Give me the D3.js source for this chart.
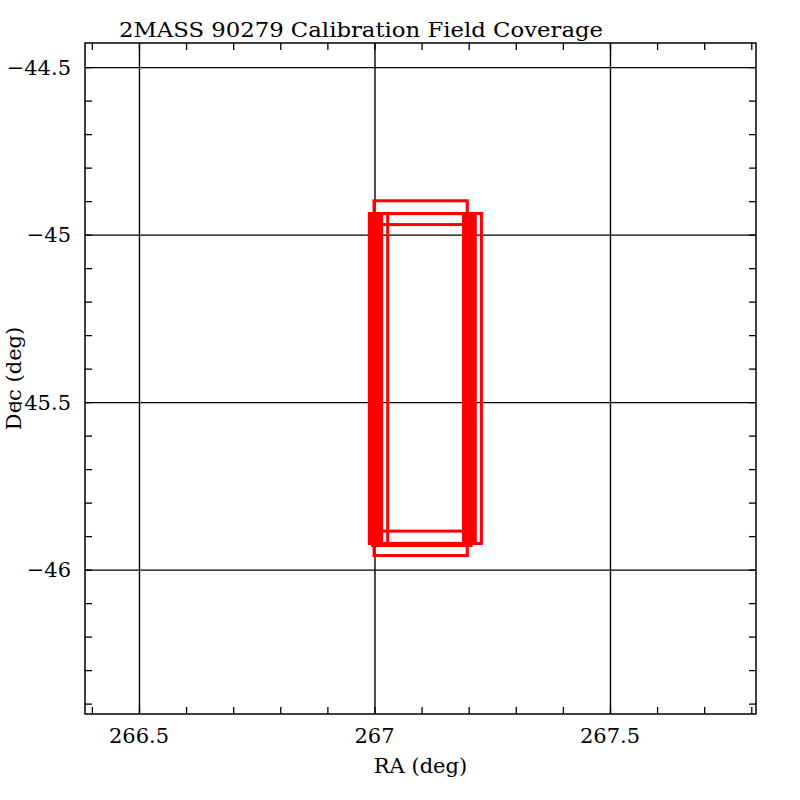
<!DOCTYPE html>
<meta charset="utf-8">
<style>
body { margin: 0; background: #fff; }
text {
  font-family: "DejaVu Serif", serif;
  font-size: 21px;
  fill: #000;
}
</style>
<svg width="800" height="800"></svg>
<script src="https://d3js.org/d3.v7.min.js"></script>
<script>

var svg = d3.select("svg");

// ---- data (RA / Dec in degrees) ----
var raDomain = [266.3854, 267.81];
var decDomain = [-46.431, -44.428];
var raTicks = [266.5, 267, 267.5];
var decTicks = [-44.5, -45, -45.5, -46];

// scan footprints: RA left, RA right, Dec top, Dec bottom
var scanRaLeft  = [266.989, 266.992, 266.996, 266.999, 267.002, 267.005, 267.008, 267.011, 267.015, 267.028];
var scanRaRight = [267.189, 267.192, 267.195, 267.198, 267.202, 267.205, 267.208, 267.211, 267.214, 267.227];
var scanDecTop  = [-44.937, -44.937, -44.937, -44.937, -44.937, -44.937, -44.937, -44.937, -44.937, -44.937];
var scanDecBot  = [-45.922, -45.922, -45.928, -45.922, -45.922, -45.928, -45.922, -45.922, -45.922, -45.922];

// the long and the inner field outlines
var fieldRaLeft  = [266.999, 267.012];
var fieldRaRight = [267.197, 267.194];
var fieldDecTop  = [-44.899, -44.970];
var fieldDecBot  = [-45.958, -45.885];

var plotL = 85, plotR = 756, plotT = 43, plotB = 714;

var x = d3.scaleLinear().domain(raDomain).range([plotL, plotR]);
var y = d3.scaleLinear().domain(decDomain).range([plotB, plotT]);

var raMinor = d3.range(266.4, 267.81, 0.1).map(function(d) { return +d.toFixed(1); });
var decMinor = d3.range(-46.4, -44.41, 0.1).map(function(d) { return +d.toFixed(1); });

// grid lines at major values
svg.append("g")
   .attr("transform", "translate(0," + plotB + ")")
   .call(d3.axisBottom(x).tickValues(raTicks).tickSize(-(plotB - plotT)).tickFormat(""))
   .call(function(g) { g.select(".domain").remove(); })
   .selectAll("line").attr("stroke", "#000").attr("stroke-width", 1.4);

svg.append("g")
   .attr("transform", "translate(" + plotL + ",0)")
   .call(d3.axisLeft(y).tickValues(decTicks).tickSize(-(plotR - plotL)).tickFormat(""))
   .call(function(g) { g.select(".domain").remove(); })
   .selectAll("line").attr("stroke", "#000").attr("stroke-width", 1.4);

// minor ticks, inward on all four sides
function minorTicks(axis, tx, ty) {
        svg.append("g")
           .attr("transform", "translate(" + tx + "," + ty + ")")
           .call(axis.tickSize(-7).tickFormat(""))
           .call(function(g) { g.select(".domain").remove(); })
           .selectAll("line").attr("stroke", "#000").attr("stroke-width", 1.3);
}
minorTicks(d3.axisBottom(x).tickValues(raMinor), 0, plotB);
minorTicks(d3.axisTop(x).tickValues(raMinor), 0, plotT);
minorTicks(d3.axisLeft(y).tickValues(decMinor), plotL, 0);
minorTicks(d3.axisRight(y).tickValues(decMinor), plotR, 0);

// scan outlines
var scans = scanRaLeft.map(function(d, i) {
        return { r0: d, r1: scanRaRight[i], d0: scanDecTop[i], d1: scanDecBot[i] };
});
var fields = fieldRaLeft.map(function(d, i) {
        return { r0: d, r1: fieldRaRight[i], d0: fieldDecTop[i], d1: fieldDecBot[i] };
});

svg.append("g")
   .selectAll("rect")
   .data(fields.concat(scans))
   .enter().append("rect")
   .attr("x", function(d) { return x(d.r0); })
   .attr("y", function(d) { return y(d.d0); })
   .attr("width", function(d) { return x(d.r1) - x(d.r0); })
   .attr("height", function(d) { return y(d.d1) - y(d.d0); })
   .attr("fill", "none")
   .attr("stroke", "#ff0000")
   .attr("stroke-width", 3);

// frame
svg.append("rect")
   .attr("x", plotL)
   .attr("y", plotT)
   .attr("width", plotR - plotL)
   .attr("height", plotB - plotT)
   .attr("fill", "none")
   .attr("stroke", "#000")
   .attr("stroke-width", 1.5);

// tick labels
var fmt = d3.format("");
svg.append("g")
   .selectAll("text")
   .data(raTicks)
   .enter().append("text")
   .attr("x", function(d) { return x(d); })
   .attr("y", 743)
   .attr("text-anchor", "middle")
   .text(function(d) { return fmt(d); });

svg.append("g")
   .selectAll("text")
   .data(decTicks)
   .enter().append("text")
   .attr("x", 71)
   .attr("y", function(d) { return y(d) + 7.5; })
   .attr("text-anchor", "end")
   .text(function(d) { return fmt(d); });

// axis titles
svg.append("text")
   .attr("x", (plotL + plotR) / 2)
   .attr("y", 773)
   .attr("text-anchor", "middle")
   .text("RA (deg)");

svg.append("text")
   .attr("transform", "translate(21," + ((plotT + plotB) / 2) + ") rotate(-90)")
   .attr("text-anchor", "middle")
   .text("Dec (deg)");

svg.append("text")
   .attr("x", 119)
   .attr("y", 37)
   .attr("textLength", 484)
   .attr("lengthAdjust", "spacingAndGlyphs")
   .text("2MASS 90279 Calibration Field Coverage");

</script>
